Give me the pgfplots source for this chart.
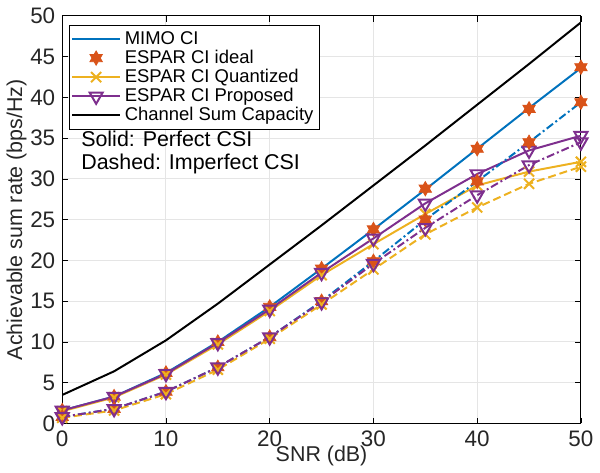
\documentclass[border=0pt]{standalone}
\usepackage{fontspec}
\setmainfont{Liberation Sans}
\setsansfont{Liberation Sans}
\usepackage{pgfplots}
\pgfplotsset{compat=1.18}
\definecolor{mblue}{rgb}{0,0.447,0.741}
\definecolor{morange}{rgb}{0.85,0.325,0.098}
\definecolor{myellow}{rgb}{0.929,0.694,0.125}
\definecolor{mpurple}{rgb}{0.494,0.184,0.556}
\pgfdeclareplotmark{hexstar}{%
  \pgfpathmoveto{\pgfpointpolar{90}{\pgfplotmarksize}}%
  \pgfpathlineto{\pgfpointpolar{120}{0.577\pgfplotmarksize}}%
  \pgfpathlineto{\pgfpointpolar{150}{\pgfplotmarksize}}%
  \pgfpathlineto{\pgfpointpolar{180}{0.577\pgfplotmarksize}}%
  \pgfpathlineto{\pgfpointpolar{210}{\pgfplotmarksize}}%
  \pgfpathlineto{\pgfpointpolar{240}{0.577\pgfplotmarksize}}%
  \pgfpathlineto{\pgfpointpolar{270}{\pgfplotmarksize}}%
  \pgfpathlineto{\pgfpointpolar{300}{0.577\pgfplotmarksize}}%
  \pgfpathlineto{\pgfpointpolar{330}{\pgfplotmarksize}}%
  \pgfpathlineto{\pgfpointpolar{0}{0.577\pgfplotmarksize}}%
  \pgfpathlineto{\pgfpointpolar{30}{\pgfplotmarksize}}%
  \pgfpathlineto{\pgfpointpolar{60}{0.577\pgfplotmarksize}}%
  \pgfpathclose
  \pgfusepathqfillstroke}
\begin{document}
\begin{tikzpicture}
\begin{axis}[
  name=ax,
  scale only axis,
  width=261.5pt, height=205.5pt,
  xmin=0, xmax=50, ymin=0, ymax=50,
  xtick={0,10,20,30,40,50},
  ytick={0,5,10,15,20,25,30,35,40,45,50},
  grid=major,
  major grid style={gray!20, line width=0.5pt},
  tick align=inside,
  major tick length=3pt,
  axis line style={line width=0.5pt},
  tick style={black, line width=0.4pt},
  /pgf/number format/assume math mode=true,
  tick label style={font=\fontsize{11.3}{12}\selectfont, text=black!85},
  xlabel={SNR (dB)},
  ylabel={Achievable sum rate (bps/Hz)},
  label style={font=\fontsize{10.8}{12}\selectfont, text=black!85},
  xlabel style={yshift=7pt},
  ylabel style={yshift=-5pt},
  legend style={at={(0.013,0.978)}, anchor=north west, font=\fontsize{9.3}{10}\selectfont,
    draw=black, line width=0.5pt, inner sep=1pt, row sep=-2.6pt,
    cells={anchor=west, inner xsep=1.5pt}},
  legend cell align=left,
  legend image code/.code={\draw[mark repeat=2,mark phase=2,#1] plot coordinates {(0cm,0cm)(0.42cm,0cm)(0.84cm,0cm)};},
]
% Solid: perfect CSI
\addplot[mblue, line width=1pt] coordinates {(0,1.6)(5,3.3)(10,6.2)(15,10.0)(20,14.3)(25,19.0)(30,23.8)(35,28.7)(40,33.7)(45,38.7)(50,43.6)};
\addlegendentry{MIMO CI}
\addplot[only marks, mark=hexstar, mark size=3.6pt, mark options={fill=morange, draw=morange, line width=0.4pt}] coordinates {(0,1.6)(5,3.3)(10,6.2)(15,10.0)(20,14.3)(25,19.0)(30,23.8)(35,28.8)(40,33.7)(45,38.6)(50,43.7)};
\addlegendentry{ESPAR CI ideal}
\addplot[myellow, line width=1pt, mark=x, mark size=3.6pt, mark options={solid}] coordinates {(0,1.5)(5,3.2)(10,6.0)(15,9.7)(20,13.8)(25,18.2)(30,22.0)(35,25.7)(40,29.2)(45,30.9)(50,32.1)};
\addlegendentry{ESPAR CI Quantized}
\addplot[mpurple, line width=1pt, mark=triangle, mark size=3.8pt, mark options={solid, rotate=180}] coordinates {(0,1.6)(5,3.3)(10,6.1)(15,9.9)(20,14.0)(25,18.5)(30,22.7)(35,27.0)(40,30.6)(45,33.5)(50,35.3)};
\addlegendentry{ESPAR CI Proposed}
\addplot[black, line width=1pt] coordinates {(0,3.5)(5,6.4)(10,10.2)(15,14.7)(20,19.5)(25,24.3)(30,29.2)(35,34.1)(40,39.1)(45,44.1)(50,49.2)};
\addlegendentry{Channel Sum Capacity}
% Dashed: imperfect CSI
\addplot[forget plot, mblue, line width=1pt, dash pattern=on 4pt off 1.5pt on 1pt off 1.5pt] coordinates {(0,0.8)(5,1.8)(10,3.9)(15,6.9)(20,10.6)(25,15.0)(30,19.9)(35,25.0)(40,29.7)(45,34.5)(50,39.4)};
\addplot[forget plot, only marks, mark=hexstar, mark size=3.6pt, mark options={fill=morange, draw=morange, line width=0.4pt}] coordinates {(0,0.8)(5,1.8)(10,3.9)(15,6.9)(20,10.6)(25,15.0)(30,19.9)(35,25.0)(40,29.7)(45,34.5)(50,39.4)};
\addplot[forget plot, myellow, line width=1pt, dash pattern=on 4pt off 2pt, mark=x, mark size=3.6pt, mark options={solid}] coordinates {(0,0.7)(5,1.6)(10,3.6)(15,6.6)(20,10.4)(25,14.6)(30,18.9)(35,23.2)(40,26.5)(45,29.4)(50,31.5)};
\addplot[forget plot, mpurple, line width=1pt, dash pattern=on 4pt off 1.5pt on 1pt off 1.5pt, mark=triangle, mark size=3.8pt, mark options={solid, rotate=180}] coordinates {(0,0.8)(5,1.8)(10,3.9)(15,6.9)(20,10.6)(25,14.9)(30,19.6)(35,24.0)(40,28.0)(45,31.7)(50,34.5)};
\node[anchor=west, align=left, font=\fontsize{10.8}{11.5}\selectfont, inner sep=0pt] at (axis cs:1.8,33.2) {Solid: Perfect CSI\\Dashed: Imperfect CSI};
\end{axis}
\path ([xshift=-30.5pt,yshift=-23pt]ax.south west) rectangle ([xshift=8pt,yshift=8pt]ax.north east);
\end{tikzpicture}
\end{document}
